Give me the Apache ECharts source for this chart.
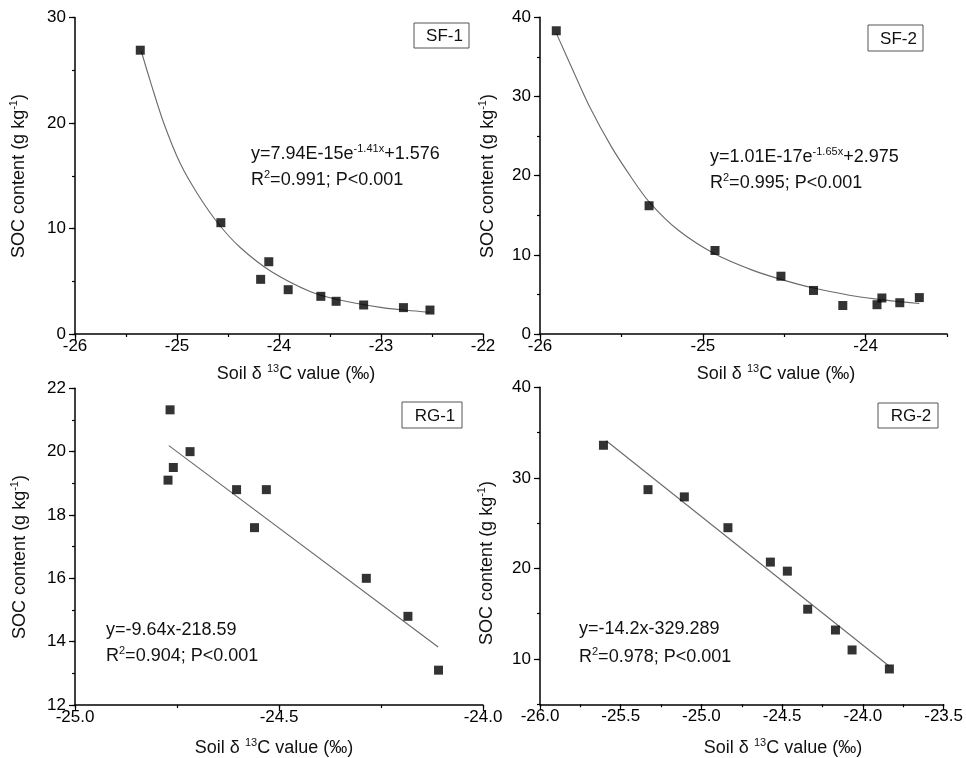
<!DOCTYPE html>
<html><head><meta charset="utf-8">
<script src="https://cdn.jsdelivr.net/npm/echarts@6/dist/echarts.min.js"></script>
<style>html,body{margin:0;padding:0;background:#fff}#c{width:966px;height:758px}</style>
</head><body><div id="c"></div>
<script>
// ---------- data ----------
const sf1X = [-25.36, -24.57, -24.18, -24.10, -23.91, -23.59, -23.44, -23.17, -22.78, -22.52];
const sf1Y = [26.9, 10.55, 5.18, 6.85, 4.2, 3.57, 3.1, 2.75, 2.5, 2.27];
const sf1FitX = [-25.35, -25.26, -25.13, -24.97, -24.80, -24.59, -24.38, -24.08, -23.69, -23.44, -22.99, -22.75, -22.52];
const sf1FitY = [26.8, 23.9, 20.0, 16.2, 13.3, 10.4, 8.2, 5.95, 4.0, 3.3, 2.5, 2.25, 2.06];

const sf2X = [-25.90, -25.33, -24.925, -24.52, -24.32, -24.14, -23.93, -23.90, -23.79, -23.67];
const sf2Y = [38.3, 16.2, 10.55, 7.3, 5.5, 3.6, 3.7, 4.55, 3.95, 4.6];
const sf2FitX = [-25.90, -25.80, -25.70, -25.56, -25.44, -25.33, -25.15, -24.925, -24.70, -24.52, -24.32, -24.10, -23.93, -23.80, -23.67];
const sf2FitY = [38.0, 33.4, 28.9, 23.6, 19.8, 16.7, 13.1, 10.1, 8.1, 6.9, 5.8, 4.9, 4.4, 4.1, 3.85];

const rg1X = [-24.772, -24.767, -24.759, -24.718, -24.604, -24.560, -24.531, -24.286, -24.184, -24.109];
const rg1Y = [19.1, 21.32, 19.5, 20.0, 18.8, 17.6, 18.8, 16.0, 14.8, 13.1];
const rg1FitX = [-24.77, -24.11];
const rg1FitY = [20.19, 13.83];

const rg2X = [-25.607, -25.331, -25.106, -24.836, -24.573, -24.468, -24.342, -24.170, -24.067, -23.836];
const rg2Y = [33.6, 28.7, 27.9, 24.5, 20.7, 19.7, 15.5, 13.2, 11.0, 8.9];
const rg2FitX = [-25.59, -23.836];
const rg2FitY = [34.1, 9.2];

// tick labels
const sf1XTicks = [-26, -25, -24, -23, -22];
const sf1YTicks = [0, 10, 20, 30];
const sf2XTicks = [-26, -25, -24];
const sf2YTicks = [0, 10, 20, 30, 40];
const rg1XTicks = [-25.0, -24.5, -24.0];
const rg1YTicks = [12, 14, 16, 18, 20, 22];
const rg2XTicks = [-26.0, -25.5, -25.0, -24.5, -24.0, -23.5];
const rg2YTicks = [10, 20, 30, 40];

// texts
const panelNames = ['SF-1', 'SF-2', 'RG-1', 'RG-2'];
const eqLine1 = [
  '{n|y=7.94E-15e}{s|-1.41x}{n|+1.576}',
  '{n|y=1.01E-17e}{s|-1.65x}{n|+2.975}',
  '{n|y=-9.64x-218.59}',
  '{n|y=-14.2x-329.289}'
];
const eqLine2 = [
  '{n|R}{s|2}{n|=0.991; P<0.001}',
  '{n|R}{s|2}{n|=0.995; P<0.001}',
  '{n|R}{s|2}{n|=0.904; P<0.001}',
  '{n|R}{s|2}{n|=0.978; P<0.001}'
];
const xTitle = '{n|Soil δ }{s|13}{n|C value (‰)}';
const yTitle = '{n|SOC content (g kg}{s|-1}{n|)}';

// ---------- layout / style ----------
const FONT = '"Liberation Sans", Arial, Helvetica, sans-serif';
const TXT = '#111';
const rich = {
  n: {fontSize: 18, fontFamily: FONT, color: TXT, lineHeight: 22},
  s: {fontSize: 11, fontFamily: FONT, color: TXT, lineHeight: 12, verticalAlign: 'top'}
};

const panels = [
  {grid: {left: 75, top: 17.5, width: 408, height: 316.5},
   x: {min: -26, max: -22, minor: 0.5, ticks: sf1XTicks, dec: 0},
   y: {min: 0, max: 30, minor: 5, ticks: sf1YTicks, dec: 0},
   px: sf1X, py: sf1Y, fx: sf1FitX, fy: sf1FitY, smooth: true,
   xt: [296, 374], yt: [19, 176], eq: [251, 154, 180],
   box: [414, 23, 55, 25]},
  {grid: {left: 540, top: 17.3, width: 407, height: 316.7},
   x: {min: -26, max: -23.5, minor: 0.5, ticks: sf2XTicks, dec: 0},
   y: {min: 0, max: 40, minor: 5, ticks: sf2YTicks, dec: 0},
   px: sf2X, py: sf2Y, fx: sf2FitX, fy: sf2FitY, smooth: true,
   xt: [776, 374], yt: [488, 176], eq: [710, 157, 183],
   box: [868, 25, 55, 26]},
  {grid: {left: 75, top: 388.3, width: 408, height: 316.7},
   x: {min: -25, max: -24, minor: 0.25, ticks: rg1XTicks, dec: 1},
   y: {min: 12, max: 22, minor: 1, ticks: rg1YTicks, dec: 0},
   px: rg1X, py: rg1Y, fx: rg1FitX, fy: rg1FitY, smooth: false,
   xt: [274, 748], yt: [20, 557], eq: [106, 630, 656],
   box: [402, 402, 60, 26]},
  {grid: {left: 540, top: 387.3, width: 407, height: 317},
   x: {min: -26, max: -23.5, minor: 0.25, ticks: rg2XTicks, dec: 1},
   y: {min: 5, max: 40, minor: 5, ticks: rg2YTicks, dec: 0},
   px: rg2X, py: rg2Y, fx: rg2FitX, fy: rg2FitY, smooth: false,
   xt: [783, 748], yt: [487, 563], eq: [579, 629, 657],
   box: [878, 403, 60, 25]}
];

const grids = [], xAxes = [], yAxes = [], series = [], graphics = [];

function mainAxis(i, a, pos, isX) {
  return {
    gridIndex: i, type: 'value', position: pos, min: a.min, max: a.max,
    axisLine: {show: true, onZero: false, lineStyle: {color: '#000', width: 1.5}},
    axisTick: {show: true, inside: false, length: 6, customValues: a.ticks, lineStyle: {color: '#000', width: 1.2}},
    axisLabel: {customValues: a.ticks, margin: isX ? 4 : 9, color: '#000', fontSize: 17, fontFamily: FONT,
      formatter: v => Number(v).toFixed(a.dec)},
    splitLine: {show: false}
  };
}
function minorAxis(i, a, pos) {
  return {
    gridIndex: i, type: 'value', position: pos, min: a.min, max: a.max, interval: a.minor,
    axisLine: {show: false}, axisLabel: {show: false}, splitLine: {show: false},
    axisTick: {show: true, inside: false, length: 3, lineStyle: {color: '#000', width: 1.2}}
  };
}

panels.forEach((p, i) => {
  grids.push(Object.assign({containLabel: false}, p.grid));
  const xi = xAxes.length, yi = yAxes.length;
  xAxes.push(mainAxis(i, p.x, 'bottom', true));
  xAxes.push(minorAxis(i, p.x, 'bottom'));
  yAxes.push(mainAxis(i, p.y, 'left', false));
  yAxes.push(minorAxis(i, p.y, 'left'));
  series.push({
    type: 'line', xAxisIndex: xi, yAxisIndex: yi, showSymbol: false, symbol: 'none',
    smooth: p.smooth ? 0.3 : false,
    lineStyle: {color: '#6a6a6a', width: 1.1}, z: 2,
    data: p.fx.map((x, k) => [x, p.fy[k]])
  });
  series.push({
    type: 'scatter', xAxisIndex: xi, yAxisIndex: yi, symbol: 'rect', symbolSize: 9,
    itemStyle: {color: '#000'}, z: 3,
    data: p.px.map((x, k) => [x, p.py[k]])
  });
  // axis titles
  graphics.push({type: 'text', x: p.xt[0], y: p.xt[1],
    style: {text: xTitle, rich: rich, align: 'center', verticalAlign: 'middle', fill: TXT}});
  graphics.push({type: 'text', x: p.yt[0], y: p.yt[1], rotation: Math.PI / 2,
    style: {text: yTitle, rich: rich, align: 'center', verticalAlign: 'middle', fill: TXT}});
  // equations
  graphics.push({type: 'text', x: p.eq[0], y: p.eq[1],
    style: {text: eqLine1[i], rich: rich, align: 'left', verticalAlign: 'middle', fill: TXT}});
  graphics.push({type: 'text', x: p.eq[0], y: p.eq[2],
    style: {text: eqLine2[i], rich: rich, align: 'left', verticalAlign: 'middle', fill: TXT}});
  // panel label box
  const b = p.box;
  graphics.push({type: 'rect', shape: {x: b[0], y: b[1], width: b[2], height: b[3]},
    style: {fill: '#fff', stroke: '#555', lineWidth: 1}, z: 10});
  graphics.push({type: 'text', x: b[0] + b[2] / 2 + 3, y: b[1] + b[3] / 2 + 1, z: 11,
    style: {text: panelNames[i], font: '17px ' + FONT, fill: TXT, align: 'center', verticalAlign: 'middle'}});
});

const chart = echarts.init(document.getElementById('c'), null, {renderer: 'canvas'});
chart.setOption({
  animation: false,
  backgroundColor: '#fff',
  grid: grids, xAxis: xAxes, yAxis: yAxes, series: series,
  graphic: {elements: graphics}
});
</script>
</body></html>
